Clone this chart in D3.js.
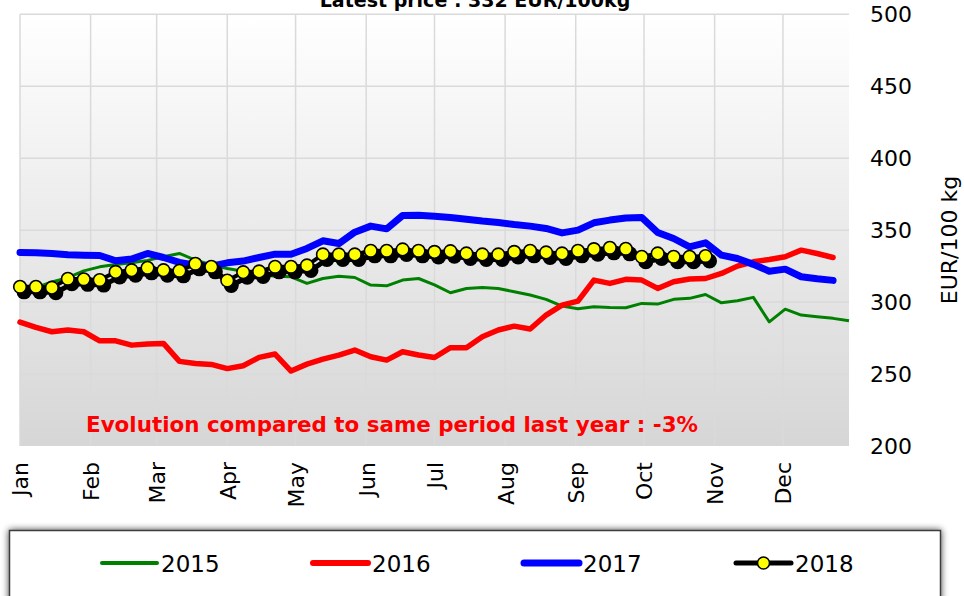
<!DOCTYPE html>
<html><head><meta charset="utf-8">
<script src="https://cdn.jsdelivr.net/npm/d3@7"></script>
<style>
html,body{margin:0;padding:0;background:#fff;}
svg{display:block;font-family:"DejaVu Sans",Verdana,sans-serif;}
</style></head>
<body><svg id="chart" width="964" height="596"></svg>
<script>
// ---- data ----
const monthLabels = ["Jan","Feb","Mar","Apr","May","Jun","Jul","Aug","Sep","Oct","Nov","Dec"];
const yTicks = [200,250,300,350,400,450,500];
const seriesNames = ["2015","2016","2017","2018"];
const v2015 = [307,310,314,317,321.7,324.5,326.2,327.3,329,331.5,333.8,329.2,326,323.4,321.5,319.4,318,317.6,313,316.4,318,317.1,311.8,311.3,315.3,316.4,312,306.5,309.5,310.2,309.5,307.2,304.9,301.9,297.2,295.4,296.8,296.3,296.1,299.1,298.6,301.9,302.6,305.3,299.5,300.9,303.3,286.3,295.1,291,289.8,288.7,287];
const v2016 = [286.1,282.4,279.4,280.6,279.4,273.1,273.1,270.1,270.8,271.3,258.8,257.4,256.7,253.8,255.8,261.6,263.9,252.1,256.9,260.4,263.2,266.7,262,259.7,265.5,263.2,261.5,268.3,268.3,275.9,280.6,283.3,281.3,291,297.9,300.7,315.3,313,315.8,315.3,309.5,314.1,316,316.4,319.9,325,328,329.6,331.5,336.1,333.8,331];
const v2017 = [334.5,334.3,333.8,332.9,332.6,332.4,328.7,329.9,333.8,331,327.6,325.7,325,327.3,328.5,331,333.3,333.3,337.3,342.6,340.7,348.6,352.8,350.9,360.2,360.4,359.7,358.8,357.6,356.3,355.3,353.9,352.8,351.2,348.1,350,355.1,357,358.5,358.8,348.4,344.2,338.4,341.2,332.6,330.3,326.2,321.5,322.9,317.6,316.2,315.1];
const v2018 = [310.6,310.6,310,316.2,315.8,315.3,321,322.2,323.8,322.2,321.7,326.6,324.5,315,320.8,321.3,324.5,324.5,325.5,333.1,333.1,333.1,335.6,335.6,336.6,335.6,334.9,335.4,333.8,333.1,333.1,334.9,335.6,334.5,333.8,335.6,336.8,337.7,337,331.5,333.8,331.5,331.5,332];
const titleText = "Latest price : 332 EUR/100kg";
const noteText = "Evolution compared to same period last year : -3%";
const yTitle = "EUR/100 kg";

// ---- layout ----
const L = 20, R = 849, T = 14.3, B = 446;
const svg = d3.select("#chart");
const start = new Date(Date.UTC(2016,0,1));
const end = new Date(Date.UTC(2016,11,30));
const x = d3.scaleUtc().domain([start,end]).range([L,R]);
const y = d3.scaleLinear().domain([200,500]).range([B,T]);
const wk = i => d3.utcDay.offset(start, 7*i);

const defs = svg.append("defs");
const grad = defs.append("linearGradient").attr("id","bg").attr("x1",0).attr("y1",0).attr("x2",0).attr("y2",1);
grad.append("stop").attr("offset","0%").attr("stop-color","#ffffff");
grad.append("stop").attr("offset","100%").attr("stop-color","#d6d6d6");
const sh = defs.append("filter").attr("id","shadow").attr("x","-5%").attr("y","-30%").attr("width","110%").attr("height","160%");
sh.append("feGaussianBlur").attr("in","SourceAlpha").attr("stdDeviation",3.5).attr("result","b");
sh.append("feOffset").attr("in","b").attr("dx",0).attr("dy",0).attr("result","o");
sh.append("feComponentTransfer").attr("in","o").attr("result","o2").append("feFuncA").attr("type","linear").attr("slope",0.75);
const m = sh.append("feMerge"); m.append("feMergeNode").attr("in","o2"); m.append("feMergeNode").attr("in","SourceGraphic");

svg.append("rect").attr("x",L).attr("y",T).attr("width",R-L).attr("height",B-T).attr("fill","url(#bg)");

// grid
const months = x.ticks(d3.utcMonth.every(1));
svg.append("g").selectAll("line.v").data(months).join("line")
  .attr("x1",d=>x(d)).attr("x2",d=>x(d)).attr("y1",T).attr("y2",B)
  .attr("stroke","#dadada").attr("stroke-width",1.5);
svg.append("g").selectAll("line.h").data(yTicks.filter(d=>d>200)).join("line")
  .attr("x1",L).attr("x2",R).attr("y1",d=>y(d)).attr("y2",d=>y(d))
  .attr("stroke","#dadada").attr("stroke-width",1.5);

// right axis labels
const yAxis = d3.axisRight(y).tickValues(yTicks).tickSize(0).tickPadding(21);
const ga = svg.append("g").attr("transform",`translate(${R},0)`).call(yAxis);
ga.select(".domain").remove();
ga.selectAll("text").attr("font-size","22px").attr("fill","#000").attr("font-family","DejaVu Sans");

// month labels
const xAxis = d3.axisBottom(x).tickValues(months).tickSize(0).tickFormat((d,i)=>monthLabels[i]);
const gx = svg.append("g").attr("transform",`translate(0,${B})`).call(xAxis);
gx.select(".domain").remove();
gx.selectAll("text").attr("font-size","22px").attr("fill","#000").attr("font-family","DejaVu Sans")
  .attr("text-anchor","end").attr("transform","rotate(-90)").attr("x",-16).attr("y",0).attr("dy","0.36em");

// lines
const line = d3.line().x((d,i)=>x(wk(i))).y(d=>y(d));
svg.append("path").datum(v2015).attr("d",line).attr("fill","none").attr("stroke","#008000").attr("stroke-width",3).attr("stroke-linejoin","round");
svg.append("path").datum(v2016).attr("d",line).attr("fill","none").attr("stroke","#ff0000").attr("stroke-width",5.5).attr("stroke-linejoin","round").attr("stroke-linecap","round");
svg.append("path").datum(v2017).attr("d",line).attr("fill","none").attr("stroke","#0000ff").attr("stroke-width",7).attr("stroke-linejoin","round").attr("stroke-linecap","round");

// 2018 with shadow
const g18 = svg.append("g");
g18.append("path").datum(v2018).attr("d",line).attr("transform","translate(4,5)").attr("fill","none").attr("stroke","#000").attr("stroke-width",5);
g18.append("g").attr("transform","translate(4,5)").selectAll("circle").data(v2018).join("circle")
  .attr("cx",(d,i)=>x(wk(i))).attr("cy",d=>y(d)).attr("r",7.5).attr("fill","#000");
g18.append("path").datum(v2018).attr("d",line).attr("fill","none").attr("stroke","#000").attr("stroke-width",4);
g18.append("g").selectAll("circle").data(v2018).join("circle")
  .attr("cx",(d,i)=>x(wk(i))).attr("cy",d=>y(d)).attr("r",6.3).attr("fill","#ffff00").attr("stroke","#000").attr("stroke-width",1.6);

// note
svg.append("text").attr("x",86).attr("y",432).attr("fill","#ff0000").attr("font-weight","bold")
  .attr("font-size","22px").attr("textLength",612).attr("lengthAdjust","spacingAndGlyphs").text(noteText);

// title
svg.append("text").attr("x",475).attr("y",7).attr("text-anchor","middle").attr("font-weight","bold")
  .attr("font-size","19px").attr("fill","#000").text(titleText);

// y title
svg.append("text").attr("transform","translate(957,240) rotate(-90)").attr("text-anchor","middle")
  .attr("font-size","22px").attr("fill","#000").text(yTitle);

// legend
svg.append("rect").attr("x",9.5).attr("y",530.5).attr("width",931).attr("height",90)
  .attr("fill","#fff").attr("stroke","#3c3c3c").attr("stroke-width",1.5).attr("filter","url(#shadow)");
const legItems = [
  {name:seriesNames[0], x1:102, color:"#008000", w:4},
  {name:seriesNames[1], x1:313, color:"#ff0000", w:6},
  {name:seriesNames[2], x1:524, color:"#0000ff", w:7},
  {name:seriesNames[3], x1:736, color:"#000000", w:5}
];
const lg = svg.append("g").selectAll("g").data(legItems).join("g");
lg.append("line").attr("x1",d=>d.x1).attr("x2",d=>d.x1+55).attr("y1",563).attr("y2",563)
  .attr("stroke",d=>d.color).attr("stroke-width",d=>d.w).attr("stroke-linecap","round");
lg.filter(d=>d.name==="2018").append("circle").attr("cx",d=>d.x1+27.5).attr("cy",563).attr("r",6)
  .attr("fill","#ffff00").attr("stroke","#000").attr("stroke-width",1.5);
lg.append("text").attr("x",d=>d.x1+59).attr("y",571.5).attr("font-size","23px").attr("fill","#000").text(d=>d.name);
</script>
</body></html>
